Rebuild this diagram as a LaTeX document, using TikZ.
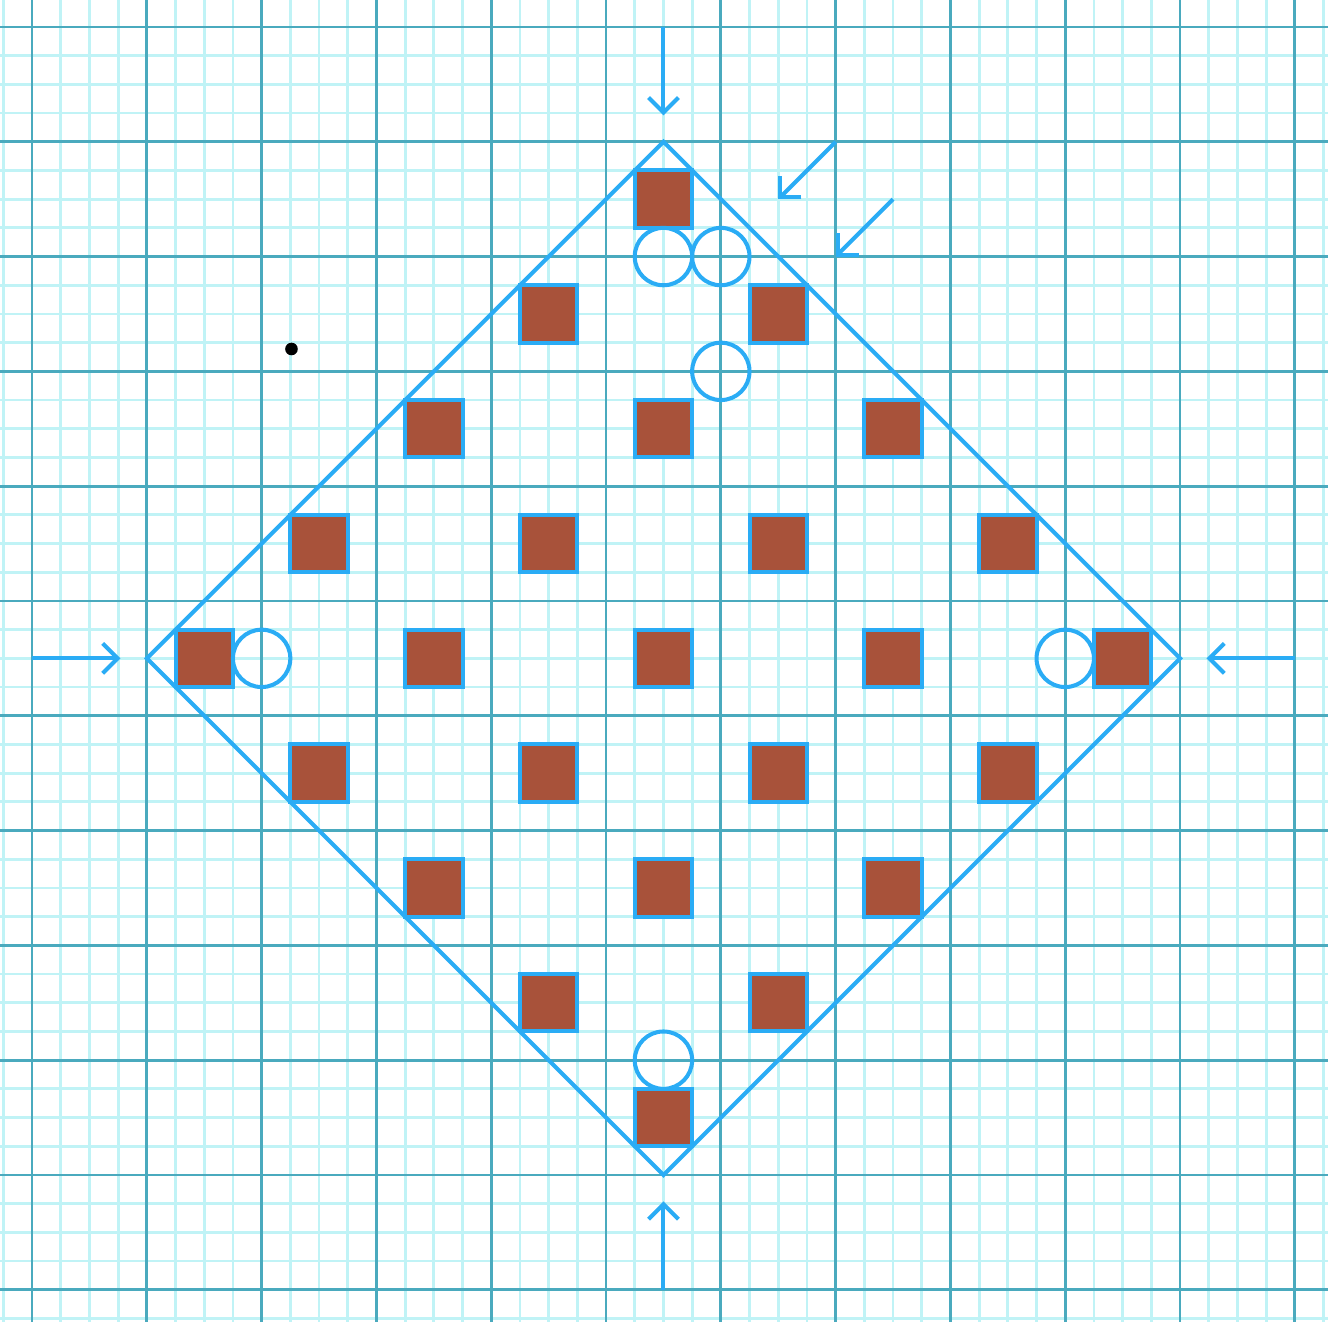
\documentclass[tikz,border=0pt]{standalone}
\usepackage{xcolor}
\definecolor{gridmajor}{RGB}{74,170,190}
\definecolor{gridminor}{RGB}{192,243,246}
\definecolor{lineblue}{RGB}{42,172,245}
\definecolor{brick}{RGB}{168,82,58}
\usetikzlibrary{arrows.meta,positioning}

\begin{document}
\begin{tikzpicture}[
  sq/.style={rectangle, draw=lineblue, fill=brick, line width=1pt,
             minimum size=0.5cm, inner sep=0pt},
  ring/.style={circle, draw=lineblue, line width=1pt,
               minimum size=0.5cm, inner sep=0pt},
  frame/.style={draw=lineblue, line width=1pt},
  arr/.style={-{Straight Barb[length=1.3mm, width=2.6mm]}, draw=lineblue, line width=1pt},
  spot/.style={circle, fill=black, minimum size=0.11cm, inner sep=0pt},
  minorline/.style={gridminor, line width=0.7pt},
  majorline/.style={gridmajor, line width=0.7pt}
]
\useasboundingbox (-0.279,-0.28) rectangle (11.289,11.235);
\clip (-0.279,-0.28) rectangle (11.289,11.235);

% Graph paper
\foreach \k in {-2,...,46} {
  \draw[minorline] ({\k/4},-1) -- ({\k/4},12);
  \draw[minorline] (-1,{\k/4}) -- (12,{\k/4});
}
\foreach \k in {0,...,11} {
  \draw[majorline] (\k,-1) -- (\k,12);
  \draw[majorline] (-1,\k) -- (12,\k);
}

% Outer diamond
\coordinate (top)    at (5.5,10);
\coordinate (left)   at (1,5.5);
\coordinate (right)  at (10,5.5);
\coordinate (bottom) at (5.5,1);
\draw[frame] (top) -- (right) -- (bottom) -- (left) -- cycle;

% Squares
\foreach \i in {0,...,4}
  \foreach \j in {0,...,4}
    \node[sq] (s\i\j) at ({5.5+\i-\j},{1.5+\i+\j}) {};

% Open circles
\node[ring] (c1) at (5.5,9) {};
\node[ring] (c2) at (6,9) {};
\node[ring] (c3) at (6,8) {};
\node[ring] (c4) at (2,5.5) {};
\node[ring] (c5) at (9,5.5) {};
\node[ring] (c6) at (5.5,2) {};

% Arrows
\coordinate (nA) at (5.5,11);    \coordinate (nB) at (5.5,10.23);
\coordinate (wA) at (0,5.5);     \coordinate (wB) at (0.77,5.5);
\coordinate (eA) at (11,5.5);    \coordinate (eB) at (10.23,5.5);
\coordinate (sA) at (5.5,0);     \coordinate (sB) at (5.5,0.77);
\coordinate (d1A) at (7,10);     \coordinate (d1B) at (6.5,9.5);
\coordinate (d2A) at (7.5,9.5);  \coordinate (d2B) at (7,9);
\draw[arr] (nA) -- (nB);
\draw[arr] (wA) -- (wB);
\draw[arr] (eA) -- (eB);
\draw[arr] (sA) -- (sB);
\draw[arr] (d1A) -- (d1B);
\draw[arr] (d2A) -- (d2B);

% Dot
\node[spot] (dot) at (2.26,8.195) {};
\end{tikzpicture}
\end{document}
